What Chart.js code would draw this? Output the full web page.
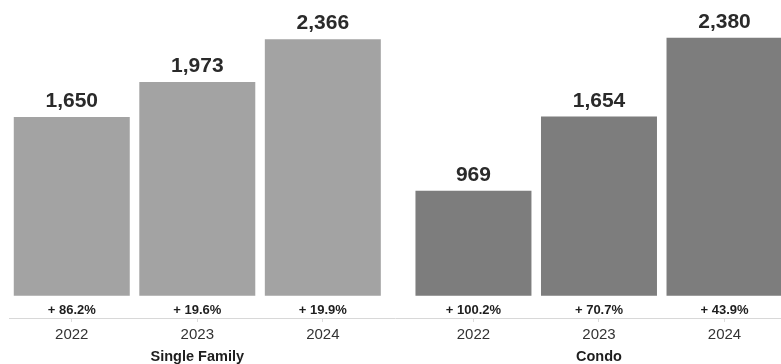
<!DOCTYPE html>
<html lang="en">
<head>
<meta charset="UTF-8">
<title>Sales by Year</title>
<script src="https://cdn.jsdelivr.net/npm/chart.js"></script>
<style>
  html, body { margin: 0; padding: 0; background: #fff; }
  .wrap { width: 781px; height: 364px; position: relative; }
</style>
</head>
<body>
<div class="wrap"><canvas id="chart"></canvas></div>
<script>
// data
const groups = ['Single Family', 'Condo'];
const years = ['2022', '2023', '2024'];
const singleFamily = [1650, 1973, 2366];
const condo = [969, 1654, 2380];
const singleFamilyChange = [86.2, 19.6, 19.9];
const condoChange = [100.2, 70.7, 43.9];

const groupColors = ['#a3a3a3', '#7d7d7d'];
const groupGap = 0.2; // extra space between the two groups, in bar slots
const FONT = '"Liberation Sans", Arial, Helvetica, sans-serif';

// flatten groups into one dataset on a linear x axis
const seriesByGroup = [singleFamily, condo];
const changeByGroup = [singleFamilyChange, condoChange];
const points = [];
const colors = [];
const changes = [];
const tickYears = [];
seriesByGroup.forEach((vals, g) => {
    vals.forEach((v, i) => {
        points.push({ x: g * (years.length + groupGap) + i, y: v });
        colors.push(groupColors[g]);
        changes.push(changeByGroup[g][i]);
        tickYears.push(years[i]);
    });
});

const labelsPlugin = {
    id: 'barLabels',
    afterDatasetsDraw(chart) {
        const ctx = chart.ctx;
        const meta = chart.getDatasetMeta(0);
        const xScale = chart.scales.x;
        const yScale = chart.scales.y;
        ctx.save();
        ctx.textAlign = 'center';
        meta.data.forEach((bar, i) => {
            ctx.fillStyle = '#2a2a2a';
            ctx.font = 'bold 21px ' + FONT;
            ctx.textBaseline = 'alphabetic';
            ctx.fillText(points[i].y.toLocaleString('en-US'), bar.x, bar.y - 10);

            ctx.fillStyle = '#1e1e1e';
            ctx.font = 'bold 13px ' + FONT;
            ctx.textBaseline = 'middle';
            ctx.fillText('+ ' + changes[i].toFixed(1) + '%', bar.x, yScale.getPixelForValue(-135));
        });
        // group names under the year ticks
        ctx.fillStyle = '#1e1e1e';
        ctx.font = 'bold 14.5px ' + FONT;
        ctx.textBaseline = 'middle';
        groups.forEach((name, g) => {
            const mid = g * (years.length + groupGap) + (years.length - 1) / 2;
            ctx.fillText(name, xScale.getPixelForValue(mid), xScale.bottom + 9);
        });
        ctx.restore();
    }
};

new Chart(document.getElementById('chart'), {
    type: 'bar',
    data: {
        datasets: [{
            data: points,
            backgroundColor: colors,
            borderWidth: 0,
            barPercentage: 0.924,
            categoryPercentage: 1
        }]
    },
    options: {
        responsive: true,
        maintainAspectRatio: false,
        animation: false,
        layout: { padding: { top: 14, left: 9, right: 0, bottom: 16 } },
        plugins: {
            legend: { display: false },
            tooltip: { enabled: false }
        },
        scales: {
            x: {
                type: 'linear',
                min: -0.5,
                max: 5.65,
                offset: false,
                grid: {
                    offset: false,
                    drawOnChartArea: false,
                    drawTicks: true,
                    tickLength: 4,
                    color: '#dcdcdc'
                },
                border: { display: true, color: '#d8d8d8', width: 1 },
                afterBuildTicks(scale) {
                    scale.ticks = points.map(p => ({ value: p.x }));
                },
                ticks: {
                    autoSkip: false,
                    maxRotation: 0,
                    padding: 4,
                    color: '#333',
                    font: { family: FONT, size: 15 },
                    callback: (value, index) => tickYears[index]
                }
            },
            y: {
                display: false,
                min: -205,
                max: 2600
            }
        }
    },
    plugins: [labelsPlugin]
});
</script>
</body>
</html>
